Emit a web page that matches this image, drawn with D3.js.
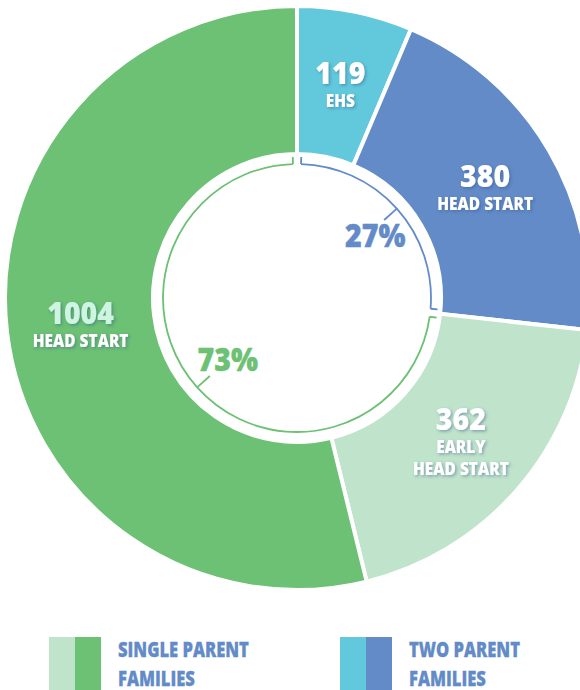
<!DOCTYPE html>
<html>
<head>
<meta charset="utf-8">
<script src="https://cdn.jsdelivr.net/npm/d3@7"></script>
<style>
  body { margin: 0; background: #fff; }
  svg { display: block; }
  text { font-family: "Open Sans", "Noto Sans", sans-serif; font-weight: 800; }
</style>
</head>
<body>
<div id="chart"></div>
<script>
// slices, clockwise from 12 o'clock
const slices = ["EHS two", "HS two", "EHS single", "HS single"];
const values = [119, 380, 362, 1004];
const sliceLabels = [["EHS"], ["HEAD START"], ["EARLY", "HEAD START"], ["HEAD START"]];
const sliceGroup = ["two", "two", "single", "single"];

const groups = ["two", "single"];
const groupPct = ["27%", "73%"];
const legendLabels = [["SINGLE PARENT", "FAMILIES"], ["TWO PARENT", "FAMILIES"]];
const legendGroups = ["single", "two"];

const width = 580, height = 690;
const cx = 297, cy = 298;
const outerR = 292, innerR = 144, ringR = 134;

const color = d3.scaleOrdinal()
    .domain(slices)
    .range(["#62c9dc", "#628bc7", "#c0e3cb", "#6cc174"]);
const groupColor = d3.scaleOrdinal()
    .domain(groups)
    .range(["#628bc7", "#6cc174"]);

const svg = d3.select("#chart")
    .append("svg")
    .attr("width", width)
    .attr("height", height);

const defs = svg.append("defs");
defs.append("filter")
    .attr("id", "shadow")
    .attr("x", "-20%").attr("y", "-20%")
    .attr("width", "140%").attr("height", "140%")
    .append("feDropShadow")
    .attr("dx", 1.5).attr("dy", 1.5)
    .attr("stdDeviation", 1.5)
    .attr("flood-color", "#2b4f8a")
    .attr("flood-opacity", 0.45);

const g = svg.append("g")
    .attr("transform", `translate(${cx},${cy})`);

const pie = d3.pie().sort(null).value(d => d);
const arcs = pie(values);

const arc = d3.arc().innerRadius(innerR).outerRadius(outerR);

g.selectAll(".slice")
    .data(arcs)
    .join("path")
    .attr("class", "slice")
    .attr("d", arc)
    .attr("fill", (d, i) => color(slices[i]))
    .attr("stroke", "#fff")
    .attr("stroke-width", 4);

// inner ring: one arc per family group
const groupTotals = groups.map(gr => d3.sum(values.filter((v, i) => sliceGroup[i] === gr)));
const groupArcs = pie(groupTotals);
const gap = 0.03;
const ringArc = d3.arc().innerRadius(ringR).outerRadius(ringR);

const polar = (a, r) => [Math.sin(a) * r, -Math.cos(a) * r];

groupArcs.forEach((d, i) => {
    const c = groupColor(groups[i]);
    const a0 = d.startAngle + gap, a1 = d.endAngle - gap;
    g.append("path")
        .attr("d", ringArc({ startAngle: a0, endAngle: a1 }))
        .attr("fill", "none")
        .attr("stroke", c)
        .attr("stroke-width", 1.8);
    // end ticks pointing outward
    [a0, a1].forEach(a => {
        const p1 = polar(a, ringR), p2 = polar(a, ringR + 7);
        g.append("line")
            .attr("x1", p1[0]).attr("y1", p1[1])
            .attr("x2", p2[0]).attr("y2", p2[1])
            .attr("stroke", c).attr("stroke-width", 1.8);
    });
    // middle tick pointing inward
    const mid = (d.startAngle + d.endAngle) / 2;
    const t1 = polar(mid, ringR), t2 = polar(mid, ringR - 17);
    g.append("line")
        .attr("x1", t1[0]).attr("y1", t1[1])
        .attr("x2", t2[0]).attr("y2", t2[1])
        .attr("stroke", c).attr("stroke-width", 1.8);
    const lp = polar(mid, 93);
    const dx = lp[0] > 0 ? 9 : 0;
    g.append("text")
        .attr("transform", `translate(${lp[0] + dx},${lp[1] + 11}) scale(0.92,1)`)
        .attr("text-anchor", "middle")
        .attr("font-size", 31)
        .attr("fill", c)
        .attr("stroke", c)
        .attr("stroke-width", 0.4)
        .text(groupPct[i]);
});

// slice labels
const labelArc = d3.arc().innerRadius(218).outerRadius(218);
arcs.forEach((d, i) => {
    const [x, y] = labelArc.centroid(d);
    const n = sliceLabels[i].length;
    const top = y - (22 + 23 * n) / 2;
    const lg = g.append("g").attr("filter", "url(#shadow)");
    lg.append("text")
        .attr("transform", `translate(${x},${top + 22}) scale(0.95,1)`)
        .attr("text-anchor", "middle")
        .attr("font-size", 30)
        .attr("fill", i === 3 ? "#cdf5e2" : "#fff")
        .text(values[i]);
    sliceLabels[i].forEach((s, j) => {
        lg.append("text")
            .attr("transform", `translate(${x},${top + 45 + j * 22}) scale(0.86,1)`)
            .attr("text-anchor", "middle")
            .attr("font-size", 18)
            .attr("fill", "#fff")
            .text(s);
    });
});

// legend
const legendX = [49, 340];
legendGroups.forEach((gr, i) => {
    const ids = slices.filter((s, j) => sliceGroup[j] === gr);
    const lg = svg.append("g").attr("transform", `translate(${legendX[i]},637)`);
    ids.forEach((s, k) => {
        lg.append("rect")
            .attr("x", k * 26)
            .attr("width", 26)
            .attr("height", 53)
            .attr("fill", color(s));
    });
    legendLabels[i].forEach((t, k) => {
        lg.append("text")
            .attr("transform", `translate(69,${20 + k * 29}) scale(0.79,1)`)
            .attr("font-size", 21)
            .attr("fill", "#628bc7")
            .attr("stroke", "#628bc7")
            .attr("stroke-width", 0.3)
            .text(t);
    });
});
</script>
</body>
</html>
